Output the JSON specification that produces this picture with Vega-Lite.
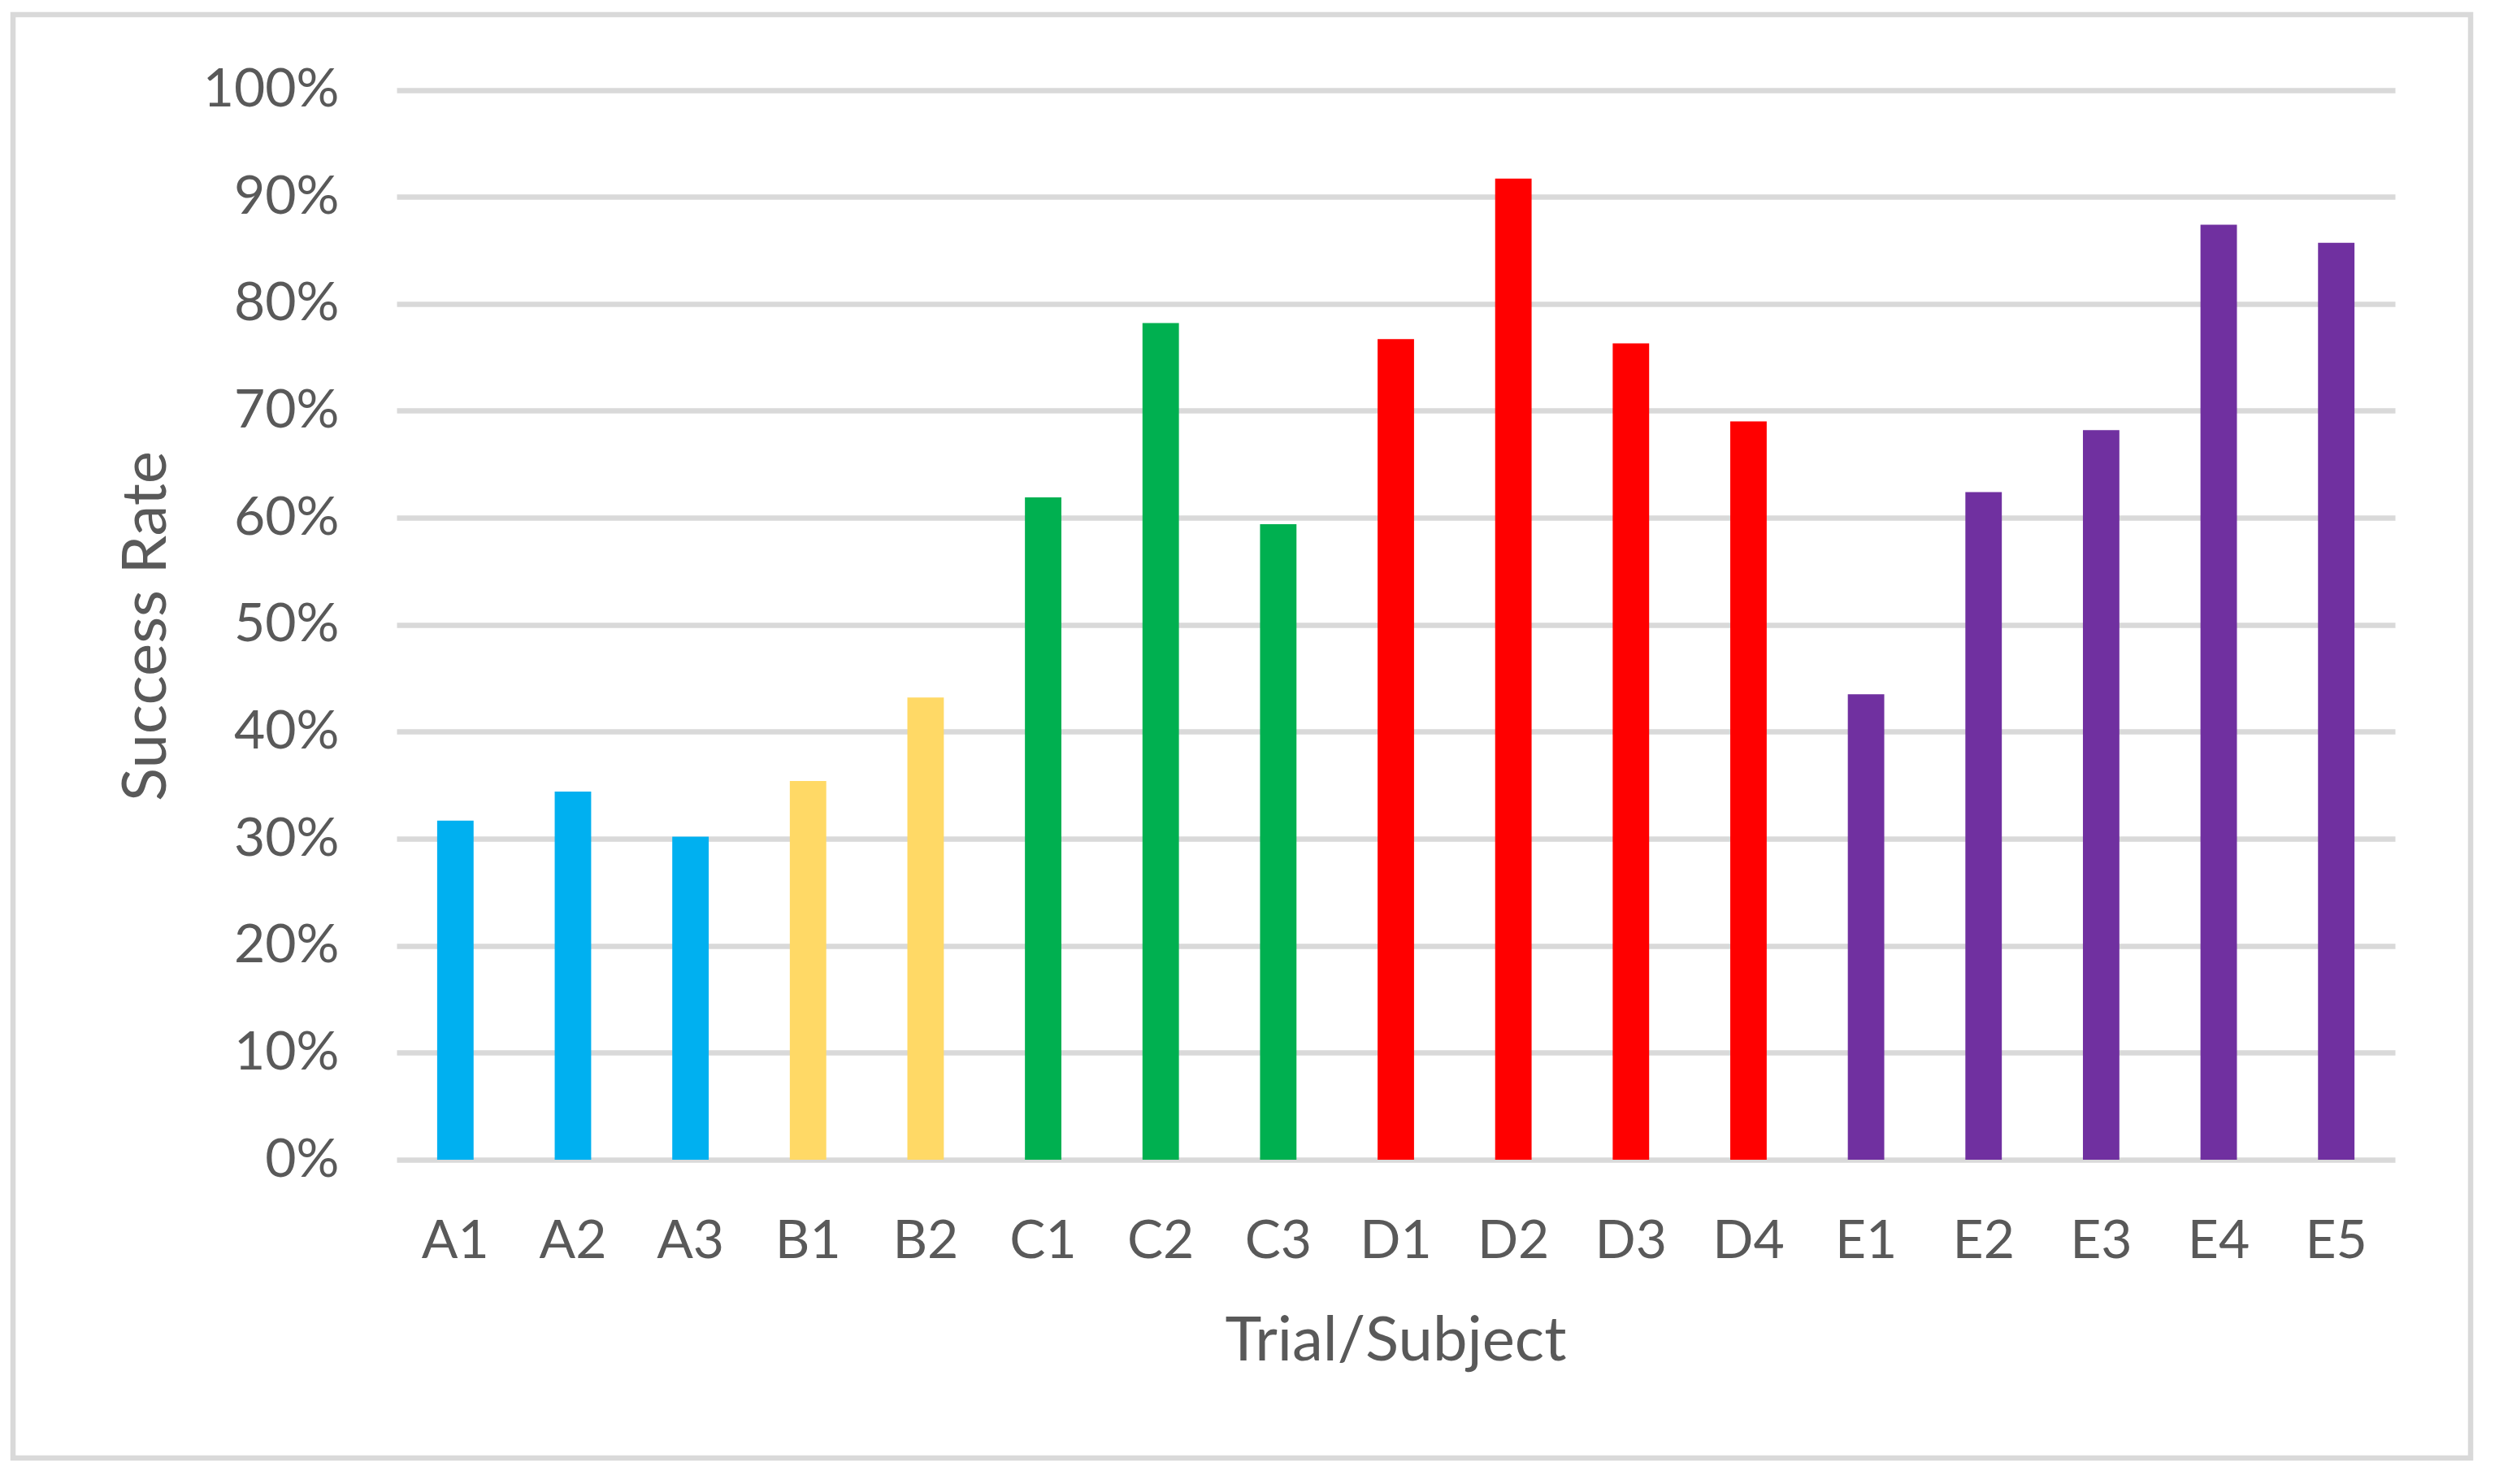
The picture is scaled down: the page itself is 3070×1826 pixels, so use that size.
{
  "$schema": "https://vega.github.io/schema/vega-lite/v6.json",
  "width": 3024,
  "height": 1776,
  "padding": {"left": 16, "top": 18, "right": 30, "bottom": 32},
  "autosize": {"type": "none"},
  "background": "white",
  "data": {
    "values": [
      {"trial": "A1", "group": "A", "rate": 0.317},
      {"trial": "A2", "group": "A", "rate": 0.344},
      {"trial": "A3", "group": "A", "rate": 0.302},
      {"trial": "B1", "group": "B", "rate": 0.354},
      {"trial": "B2", "group": "B", "rate": 0.432},
      {"trial": "C1", "group": "C", "rate": 0.619},
      {"trial": "C2", "group": "C", "rate": 0.782},
      {"trial": "C3", "group": "C", "rate": 0.594},
      {"trial": "D1", "group": "D", "rate": 0.767},
      {"trial": "D2", "group": "D", "rate": 0.917},
      {"trial": "D3", "group": "D", "rate": 0.763},
      {"trial": "D4", "group": "D", "rate": 0.690},
      {"trial": "E1", "group": "E", "rate": 0.435},
      {"trial": "E2", "group": "E", "rate": 0.624},
      {"trial": "E3", "group": "E", "rate": 0.682},
      {"trial": "E4", "group": "E", "rate": 0.874},
      {"trial": "E5", "group": "E", "rate": 0.857}
    ]
  },
  "mark": {"type": "bar"},
  "encoding": {
    "x": {
      "field": "trial",
      "type": "nominal",
      "sort": null,
      "scale": {"range": [472, 2931], "paddingInner": 0.69, "paddingOuter": 0.345},
      "axis": {
        "title": "Trial/Subject",
        "orient": "bottom",
        "offset": -367,
        "domain": false,
        "ticks": false,
        "tickSize": 0,
        "grid": false,
        "labelAngle": 0,
        "labelAlign": "center",
        "labelBaseline": "alphabetic",
        "labelPadding": 120,
        "labelFont": "Lato",
        "labelFontSize": 66,
        "labelColor": "#595959",
        "titleFont": "Lato",
        "titleFontSize": 76,
        "titleFontWeight": "normal",
        "titleColor": "#595959",
        "titleX": 1701,
        "titleY": 246,
        "titleAlign": "center",
        "titleBaseline": "alphabetic"
      }
    },
    "y": {
      "field": "rate",
      "type": "quantitative",
      "scale": {"domain": [0, 1], "range": [1409, 92.5], "nice": false, "zero": true},
      "axis": {
        "title": "Success Rate",
        "orient": "left",
        "offset": -401,
        "values": [0, 0.1, 0.2, 0.3, 0.4, 0.5, 0.6, 0.7, 0.8, 0.9, 1],
        "format": ".0%",
        "domain": false,
        "ticks": false,
        "tickSize": 0,
        "grid": true,
        "gridColor": "#d9d9d9",
        "gridWidth": 6.5,
        "gridOpacity": 1,
        "labelAlign": "right",
        "labelBaseline": "middle",
        "labelPadding": 0,
        "labelFont": "Lato",
        "labelFontSize": 66,
        "labelColor": "#595959",
        "titleFont": "Lato",
        "titleFontSize": 76,
        "titleFontWeight": "normal",
        "titleColor": "#595959",
        "titleAngle": 270,
        "titleX": -214,
        "titleY": 752,
        "titleAlign": "center",
        "titleBaseline": "alphabetic"
      }
    },
    "color": {
      "field": "group",
      "type": "nominal",
      "scale": {
        "domain": ["A", "B", "C", "D", "E"],
        "range": ["#00B0F0", "#FFD966", "#00B050", "#FF0000", "#7030A0"]
      },
      "legend": null
    }
  },
  "config": {
    "view": {"stroke": "#d9d9d9", "strokeWidth": 6.5, "fill": "white"},
    "font": "Lato"
  }
}
